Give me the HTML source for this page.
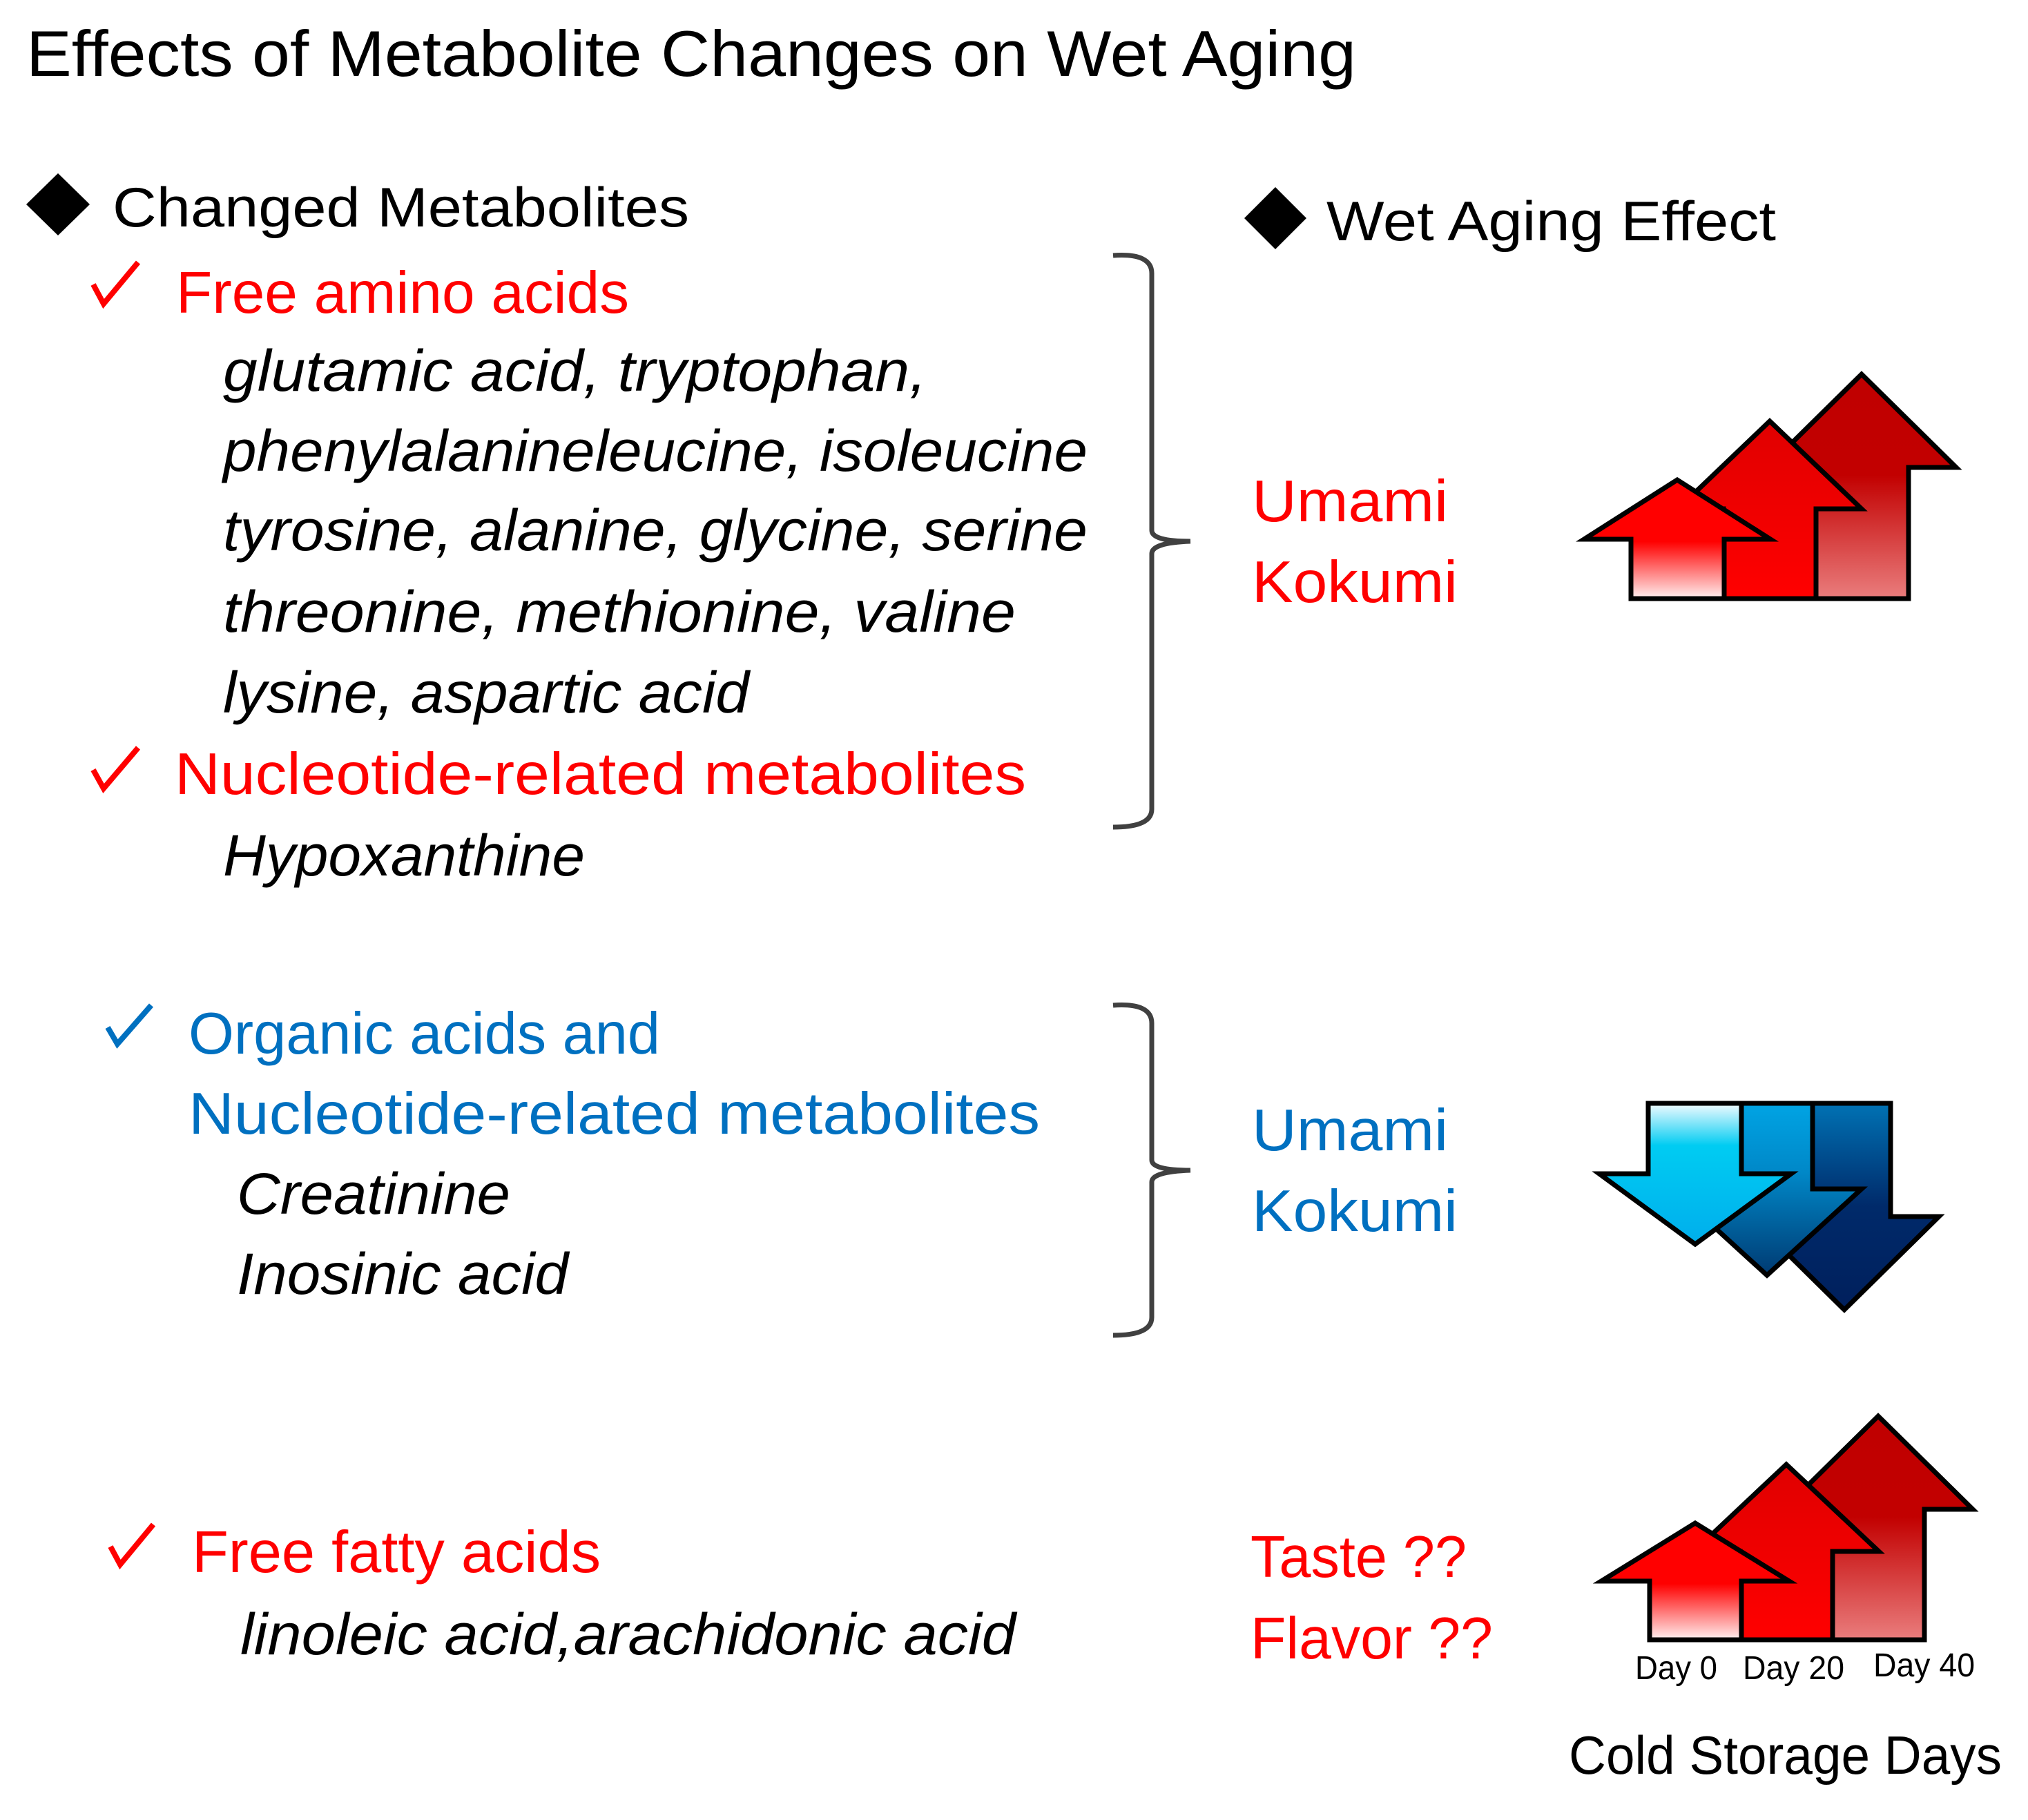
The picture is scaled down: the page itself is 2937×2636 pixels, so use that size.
<!DOCTYPE html>
<html><head><meta charset="utf-8"><style>
html,body{margin:0;padding:0;background:#fff;}
svg{display:block;}
text{font-family:"Liberation Sans",sans-serif;}
.it{font-style:italic;}
</style></head><body>
<svg width="2937" height="2636" viewBox="0 0 2937 2636" xmlns="http://www.w3.org/2000/svg">
<defs>
<linearGradient id="r1" x1="0" y1="0" x2="0" y2="1"><stop offset="0" stop-color="#ff0000"/><stop offset="0.52" stop-color="#ff0000"/><stop offset="1" stop-color="#fff0f0"/></linearGradient>
<linearGradient id="r2" x1="0" y1="0" x2="0" y2="1"><stop offset="0" stop-color="#e00000"/><stop offset="1" stop-color="#ff0000"/></linearGradient>
<linearGradient id="r3" x1="0" y1="0" x2="0" y2="1"><stop offset="0" stop-color="#c00000"/><stop offset="0.45" stop-color="#c20000"/><stop offset="1" stop-color="#ea7d7d"/></linearGradient>
<linearGradient id="b1" x1="0" y1="0" x2="0" y2="1"><stop offset="0" stop-color="#f4fbff"/><stop offset="0.3" stop-color="#00ccf2"/><stop offset="1" stop-color="#00aeec"/></linearGradient>
<linearGradient id="b2" x1="0" y1="0" x2="0" y2="1"><stop offset="0" stop-color="#00a4e4"/><stop offset="0.4" stop-color="#0088c8"/><stop offset="1" stop-color="#003a72"/></linearGradient>
<linearGradient id="b3" x1="0" y1="0" x2="0" y2="1"><stop offset="0" stop-color="#0072b4"/><stop offset="0.5" stop-color="#002a6a"/><stop offset="1" stop-color="#001f5c"/></linearGradient>
</defs>

<text x="38" y="110" font-size="94" fill="#000" textLength="1926" lengthAdjust="spacingAndGlyphs">Effects of Metabolite Changes on Wet Aging</text>

<polygon points="84,251 130,296 84,341 38,296" fill="#000"/>
<text x="163" y="328" font-size="81" fill="#000" textLength="835" lengthAdjust="spacingAndGlyphs">Changed Metabolites</text>

<polygon points="1847,271 1892,316 1847,361 1802,316" fill="#000"/>
<text x="1921" y="348" font-size="81" fill="#000" textLength="651" lengthAdjust="spacingAndGlyphs">Wet Aging Effect</text>

<!-- section 1 -->
<path d="M135,412 L150,440 L200,380" fill="none" stroke="#ff0000" stroke-width="8"/>
<text x="255" y="453" font-size="85" fill="#ff0000" textLength="656" lengthAdjust="spacingAndGlyphs">Free amino acids</text>
<g class="it" font-size="84" fill="#000">
<text class="it" x="323" y="566" textLength="1019" lengthAdjust="spacingAndGlyphs">glutamic acid, tryptophan,</text>
<text class="it" x="323" y="682" textLength="1252" lengthAdjust="spacingAndGlyphs">phenylalanineleucine,  isoleucine</text>
<text class="it" x="323" y="797" textLength="1252" lengthAdjust="spacingAndGlyphs">tyrosine, alanine, glycine, serine</text>
<text class="it" x="323" y="915" textLength="1148" lengthAdjust="spacingAndGlyphs">threonine,  methionine, valine</text>
<text class="it" x="323" y="1032" textLength="762" lengthAdjust="spacingAndGlyphs">lysine, aspartic acid</text>
</g>
<path d="M135,1115 L150,1142 L200,1083" fill="none" stroke="#ff0000" stroke-width="8"/>
<text x="253" y="1150" font-size="85" fill="#ff0000" textLength="1233" lengthAdjust="spacingAndGlyphs">Nucleotide-related metabolites</text>
<text class="it" x="323" y="1268" font-size="84" fill="#000" textLength="524" lengthAdjust="spacingAndGlyphs">Hypoxanthine</text>

<path d="M1612,370 Q1668,366 1668,396 L1668,768 Q1668,784 1724,784 Q1668,786 1668,802 L1668,1172 Q1668,1198 1612,1198" fill="none" stroke="#404040" stroke-width="7"/>

<text x="1813" y="755" font-size="85" fill="#ff0000" textLength="284" lengthAdjust="spacingAndGlyphs">Umami</text>
<text x="1813" y="872" font-size="85" fill="#ff0000" textLength="298" lengthAdjust="spacingAndGlyphs">Kokumi</text>

<g stroke="#000" stroke-width="7" stroke-linejoin="miter">
<polygon fill="url(#r3)" points="2628,867 2628,677 2559,677 2696,542 2833,677 2764,677 2764,867"/>
<polygon fill="url(#r2)" points="2496,867 2496,737 2430,737 2563,610 2696,737 2630,737 2630,867"/>
<polygon fill="url(#r1)" points="2362,867 2362,781 2294,781 2429,695 2564,781 2497,781 2497,867"/>
</g>

<!-- section 2 -->
<path d="M156,1488 L170,1512 L219,1456" fill="none" stroke="#0070c0" stroke-width="8"/>
<text x="273" y="1526" font-size="85" fill="#0070c0" textLength="683" lengthAdjust="spacingAndGlyphs">Organic acids and</text>
<text x="273" y="1642" font-size="85" fill="#0070c0" textLength="1233" lengthAdjust="spacingAndGlyphs">Nucleotide-related metabolites</text>
<text class="it" x="343" y="1758" font-size="84" fill="#000" textLength="396" lengthAdjust="spacingAndGlyphs">Creatinine</text>
<text class="it" x="343" y="1874" font-size="84" fill="#000" textLength="480" lengthAdjust="spacingAndGlyphs">Inosinic acid</text>

<path d="M1612,1456 Q1668,1452 1668,1482 L1668,1680 Q1668,1695 1724,1695 Q1668,1697 1668,1712 L1668,1908 Q1668,1934 1612,1934" fill="none" stroke="#404040" stroke-width="7"/>

<text x="1813" y="1666" font-size="85" fill="#0070c0" textLength="284" lengthAdjust="spacingAndGlyphs">Umami</text>
<text x="1813" y="1783" font-size="85" fill="#0070c0" textLength="298" lengthAdjust="spacingAndGlyphs">Kokumi</text>

<g stroke="#000" stroke-width="7" stroke-linejoin="miter">
<polygon fill="url(#b3)" points="2604,1598 2738,1598 2738,1762 2808,1762 2671,1897 2534,1762 2604,1762"/>
<polygon fill="url(#b2)" points="2493,1598 2625,1598 2625,1722 2696,1722 2559,1847 2422,1722 2493,1722"/>
<polygon fill="url(#b1)" points="2387,1598 2522,1598 2522,1700 2594,1700 2455,1802 2316,1700 2387,1700"/>
</g>

<!-- section 3 -->
<path d="M160,2240 L174,2266 L222,2208" fill="none" stroke="#ff0000" stroke-width="8"/>
<text x="278" y="2277" font-size="85" fill="#ff0000" textLength="592" lengthAdjust="spacingAndGlyphs">Free fatty acids</text>
<text class="it" x="348" y="2396" font-size="84" fill="#000" textLength="1123" lengthAdjust="spacingAndGlyphs">linoleic acid,arachidonic  acid</text>

<text x="1811" y="2284" font-size="85" fill="#ff0000" textLength="313" lengthAdjust="spacingAndGlyphs">Taste ??</text>
<text x="1811" y="2402" font-size="85" fill="#ff0000" textLength="351" lengthAdjust="spacingAndGlyphs">Flavor ??</text>

<g stroke="#000" stroke-width="7" stroke-linejoin="miter">
<polygon fill="url(#r3)" points="2653,2375 2653,2186 2583,2186 2720,2051 2857,2186 2787,2186 2787,2375"/>
<polygon fill="url(#r2)" points="2520,2375 2520,2247 2453,2247 2587,2121 2721,2247 2654,2247 2654,2375"/>
<polygon fill="url(#r1)" points="2389,2375 2389,2290 2319,2290 2455,2206 2591,2290 2522,2290 2522,2375"/>
</g>

<text x="2368" y="2432" font-size="48" fill="#000" textLength="119" lengthAdjust="spacingAndGlyphs">Day 0</text>
<text x="2524" y="2432" font-size="48" fill="#000" textLength="147" lengthAdjust="spacingAndGlyphs">Day 20</text>
<text x="2713" y="2428" font-size="48" fill="#000" textLength="147" lengthAdjust="spacingAndGlyphs">Day 40</text>
<text x="2272" y="2569" font-size="78" fill="#000" textLength="627" lengthAdjust="spacingAndGlyphs">Cold Storage Days</text>
</svg>
</body></html>
